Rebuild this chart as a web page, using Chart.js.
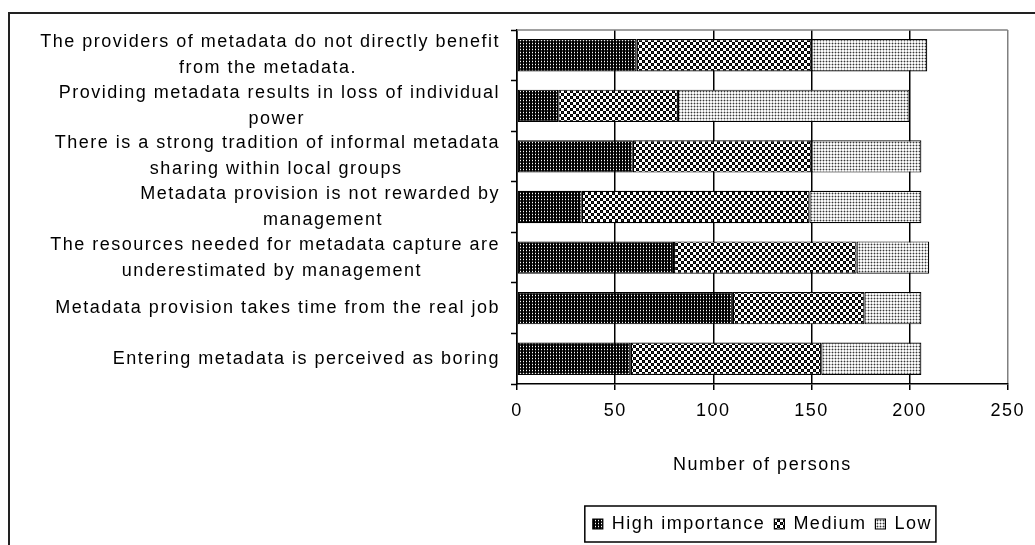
<!DOCTYPE html>
<html><head><meta charset="utf-8">
<script src="https://cdn.jsdelivr.net/npm/chart.js@4.4.1/dist/chart.umd.min.js"></script>
<style>
html,body{margin:0;padding:0;background:#fff;overflow:hidden;}
#wrap{position:relative;width:1035px;height:545px;overflow:hidden;}
#frame{position:absolute;left:8px;top:12px;width:1100px;height:600px;border-left:2px solid #222;border-top:2px solid #222;}
canvas{position:absolute;left:0;top:0;}
</style></head><body>
<div id="wrap"><div id="frame"></div><canvas id="c" width="1035" height="545"></canvas></div>
<script>
const categories = [
  ["The providers of metadata do not directly benefit", "from the metadata."],
  ["Providing metadata results in loss of individual", "power"],
  ["There is a strong tradition of informal metadata", "sharing within local groups"],
  ["Metadata provision is not rewarded by", "management"],
  ["The resources needed for metadata capture are", "underestimated by management"],
  ["Metadata provision takes time from the real job"],
  ["Entering metadata is perceived as boring"]
];
const seriesNames = ["High importance", "Medium", "Low"];
const highValues   = [61, 21, 59, 33, 80, 110, 58];
const mediumValues = [89, 61, 91, 116, 93, 67, 97];
const lowValues    = [59, 118, 56, 57, 37, 29, 51];
const xTickValues  = [0, 50, 100, 150, 200, 250];
const axisTitle = "Number of persons";

const FONT = '"Liberation Sans", Arial, sans-serif';
const FS = 18;
const LS = '1.5px';

function makePattern(kind) {
  const c = document.createElement('canvas');
  c.width = 6; c.height = 6;
  const g = c.getContext('2d');
  const px = (x, y, col) => { g.fillStyle = col; g.fillRect(x, y, 1, 1); };
  if (kind === 'high') {
    g.fillStyle = '#000'; g.fillRect(0, 0, 6, 6);
    for (let y = 0; y < 6; y++) for (let x = 0; x < 6; x++) {
      if (x % 3 === 1) px(x, y, y % 3 === 1 ? '#ffffff' : '#3a3a3a');
    }
  } else if (kind === 'medium') {
    g.fillStyle = '#fff'; g.fillRect(0, 0, 6, 6);
    g.fillStyle = '#000'; g.fillRect(0, 0, 3, 3); g.fillRect(3, 3, 3, 3);
    px(1, 1, '#444'); px(4, 4, '#444');
  } else {
    g.fillStyle = '#fafafa'; g.fillRect(0, 0, 6, 6);
    for (let y = 0; y < 6; y++) for (let x = 0; x < 6; x++) {
      const cx = x % 3 === 1, cy = y % 3 === 1;
      if (cx && cy) px(x, y, '#383838');
      else if (cx || cy) px(x, y, '#b8b8b8');
    }
  }
  return g.createPattern(c, 'repeat');
}

// center continuation lines under the first line (labels are right aligned)
const mctx = document.createElement('canvas').getContext('2d');
mctx.font = FS + 'px ' + FONT;
mctx.letterSpacing = LS;
const spaceW = mctx.measureText(' ').width;
const yLabels = categories.map(lines => {
  if (lines.length < 2) return lines[0];
  const w0 = mctx.measureText(lines[0]).width;
  return lines.map((l, i) => {
    if (i === 0) return l;
    const w = mctx.measureText(l).width;
    const n = Math.max(0, Math.round((w0 - w) / 2 / spaceW));
    return l + ' '.repeat(n);
  });
});

const spacingPlugin = {
  id: 'spacing',
  beforeUpdate(chart) { chart.ctx.letterSpacing = LS; },
  beforeLayout(chart) { chart.ctx.letterSpacing = LS; },
  beforeDraw(chart) { chart.ctx.letterSpacing = LS; },
  afterDraw(chart) {
    const ctx = chart.ctx, a = chart.chartArea;
    ctx.save();
    ctx.strokeStyle = '#808080'; ctx.lineWidth = 1.5;
    ctx.beginPath(); ctx.moveTo(a.left, a.top); ctx.lineTo(a.right, a.top); ctx.stroke();
    const hb = chart.legend.legendHitBoxes;
    if (hb && hb.length) {
      const l = Math.min(...hb.map(h => h.left));
      const r = Math.max(...hb.map(h => h.left + h.width));
      const t = Math.min(...hb.map(h => h.top));
      const b = Math.max(...hb.map(h => h.top + h.height));
      const cy = (t + b) / 2;
      ctx.strokeStyle = '#000'; ctx.lineWidth = 1.5;
      ctx.strokeRect(l - 8, cy - 18, r - l + 12, 36);
    }
    ctx.restore();
  }
};

new Chart(document.getElementById('c'), {
  type: 'bar',
  data: {
    labels: yLabels,
    datasets: [
      { label: seriesNames[0], data: highValues, backgroundColor: makePattern('high') },
      { label: seriesNames[1], data: mediumValues, backgroundColor: makePattern('medium') },
      { label: seriesNames[2], data: lowValues, backgroundColor: makePattern('low') }
    ].map(d => Object.assign(d, { borderColor: '#000', borderWidth: 1.2, borderSkipped: false, categoryPercentage: 1, barPercentage: 0.64 }))
  },
  options: {
    indexAxis: 'y',
    responsive: false,
    devicePixelRatio: 1,
    animation: false,
    layout: { padding: { left: 0, right: 27, top: 30, bottom: 2 } },
    font: { family: FONT, size: FS },
    color: '#000',
    plugins: {
      tooltip: { enabled: false },
      legend: {
        position: 'bottom',
        fullSize: false,
        labels: { boxWidth: 10, boxHeight: 10, padding: 9, color: '#000', font: { family: FONT, size: FS } }
      }
    },
    scales: {
      x: {
        type: 'linear', stacked: true, min: 0, max: 250,
        afterBuildTicks: s => { s.ticks = xTickValues.map(v => ({ value: v })); },
        afterFit: s => { s.height = 122; },
        grid: {
          color: c => (c.tick && c.tick.value === 250) ? '#808080' : '#000',
          lineWidth: 1.5, tickLength: 6, tickColor: '#000', tickWidth: 1.5
        },
        border: { display: true, color: '#000', width: 1.5 },
        ticks: { color: '#000', font: { family: FONT, size: FS }, padding: 10, maxRotation: 0 },
        title: { display: true, text: axisTitle, color: '#000', font: { family: FONT, size: FS }, padding: { top: 4, bottom: 30 } }
      },
      y: {
        type: 'category', stacked: true, offset: true,
        afterFit: s => { s.width = 517; },
        grid: { drawOnChartArea: false, offset: true, tickLength: 6, tickColor: '#000', tickWidth: 1.5 },
        border: { display: true, color: '#000', width: 1.5 },
        ticks: { color: '#000', autoSkip: false, padding: 11, font: { family: FONT, size: FS, lineHeight: 26 / FS } }
      }
    }
  },
  plugins: [spacingPlugin]
});
</script>
</body></html>
